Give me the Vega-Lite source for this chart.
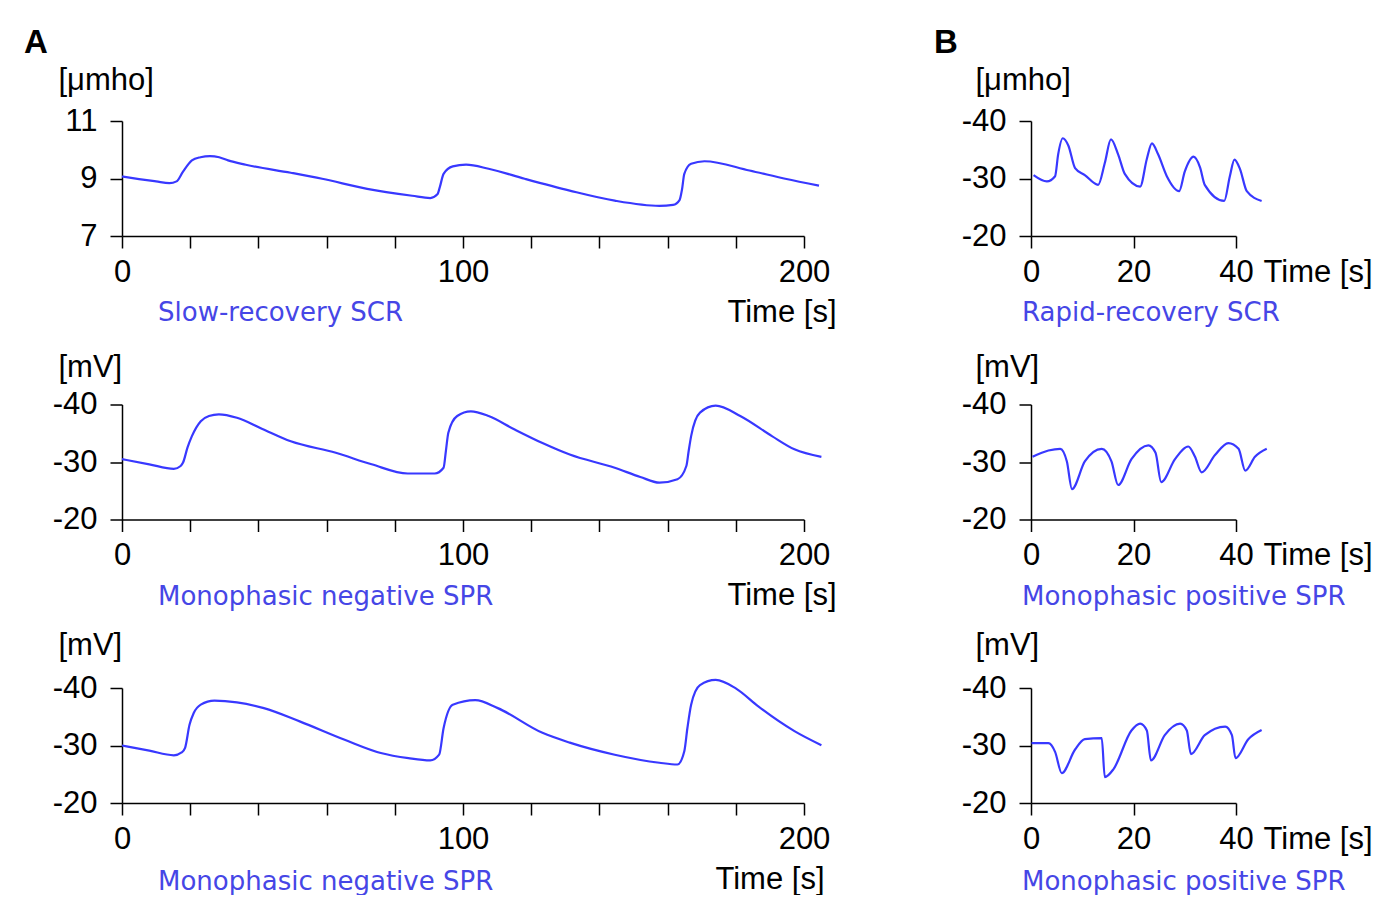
{
  "$schema": "https://vega.github.io/schema/vega-lite/v6.json",
  "background": "white",
  "padding": {"left": 24, "top": 27, "right": 0, "bottom": 0},
  "config": {
    "view": {"stroke": null},
    "axis": {
      "domainColor": "#000", "tickColor": "#000", "domainWidth": 1.5, "tickWidth": 1.5, "tickSize": 12,
      "labelFont": "Liberation Sans", "labelFontSize": 31, "labelColor": "#000", "labelFlush": false,
      "titleFont": "Liberation Sans", "titleFontSize": 31, "titleFontWeight": "normal", "titleColor": "#000",
      "grid": false
    },
    "axisX": {"labelPadding": 9},
    "axisY": {"labelPadding": 13},
    "line": {"color": "#3838ff", "strokeWidth": 2.2, "interpolate": "monotone"}
  },
  "datasets": {
    "a1": [
      {"t":0,"v":9.07},{"t":5,"v":8.98},{"t":10,"v":8.9},{"t":13.9,"v":8.84},{"t":16,"v":8.9},{"t":17.8,"v":9.22},{"t":20.5,"v":9.63},{"t":23,"v":9.74},{"t":25.8,"v":9.78},{"t":28.5,"v":9.74},{"t":31.1,"v":9.63},{"t":36.3,"v":9.48},{"t":49.5,"v":9.2},{"t":58.7,"v":8.99},{"t":71.9,"v":8.64},{"t":85.1,"v":8.4},{"t":90.4,"v":8.32},{"t":92.5,"v":8.45},{"t":93.2,"v":8.7},{"t":94.3,"v":9.16},{"t":97,"v":9.42},{"t":100.9,"v":9.48},{"t":107.5,"v":9.34},{"t":118.1,"v":8.99},{"t":131.3,"v":8.58},{"t":144.5,"v":8.23},{"t":157.6,"v":8.05},{"t":161.6,"v":8.08},{"t":163.5,"v":8.25},{"t":164.2,"v":8.6},{"t":164.9,"v":9.16},{"t":166.9,"v":9.51},{"t":170.8,"v":9.6},{"t":184,"v":9.28},{"t":194.5,"v":8.99},{"t":204.4,"v":8.75}
    ],
    "a2": [
      {"t":0,"v":-30.5},{"t":8,"v":-29.6},{"t":15.2,"v":-28.8},{"t":17.2,"v":-29.3},{"t":17.9,"v":-29.9},{"t":19.2,"v":-32.5},{"t":20.5,"v":-34.5},{"t":23.1,"v":-37.1},{"t":25.5,"v":-38.0},{"t":28.4,"v":-38.3},{"t":33.7,"v":-37.7},{"t":41,"v":-35.8},{"t":49.5,"v":-33.6},{"t":62.7,"v":-31.6},{"t":73.2,"v":-29.6},{"t":83.8,"v":-28.0},{"t":91.7,"v":-28.0},{"t":94.3,"v":-29.0},{"t":95,"v":-32},{"t":95.7,"v":-35.1},{"t":98.3,"v":-38.0},{"t":102.3,"v":-38.8},{"t":107.5,"v":-38.0},{"t":115,"v":-35.7},{"t":123.3,"v":-33.3},{"t":131.3,"v":-31.3},{"t":144.5,"v":-29.0},{"t":152,"v":-27.4},{"t":157.6,"v":-26.4},{"t":162.9,"v":-27.0},{"t":165.5,"v":-29.3},{"t":166.2,"v":-32},{"t":166.9,"v":-34.5},{"t":169.5,"v":-38.6},{"t":174.1,"v":-39.8},{"t":181.3,"v":-38.0},{"t":190.6,"v":-34.5},{"t":197.2,"v":-32.2},{"t":205.1,"v":-30.9}
    ],
    "a3": [
      {"t":0,"v":-30.0},{"t":8,"v":-29.1},{"t":15.2,"v":-28.3},{"t":17.5,"v":-28.8},{"t":18.5,"v":-29.6},{"t":19.8,"v":-33.6},{"t":21,"v":-35.6},{"t":23.1,"v":-37.1},{"t":27.1,"v":-37.8},{"t":33.7,"v":-37.5},{"t":41.6,"v":-36.5},{"t":52.1,"v":-34.2},{"t":65.3,"v":-31.0},{"t":75.9,"v":-28.7},{"t":84,"v":-27.8},{"t":90.4,"v":-27.4},{"t":93,"v":-28.4},{"t":94.3,"v":-33.0},{"t":97,"v":-37.1},{"t":103.6,"v":-37.9},{"t":110.2,"v":-36.5},{"t":123.3,"v":-32.2},{"t":131.3,"v":-30.5},{"t":144.5,"v":-28.4},{"t":157.6,"v":-27.0},{"t":162.9,"v":-26.7},{"t":164.9,"v":-29.0},{"t":165.8,"v":-33},{"t":166.9,"v":-37.1},{"t":169.5,"v":-40.5},{"t":174.1,"v":-41.4},{"t":180.1,"v":-39.9},{"t":186.6,"v":-36.8},{"t":197.2,"v":-32.5},{"t":205.1,"v":-30.05}
    ],
    "b1": [
      {"t":0.5,"v":-30.6},{"t":3.1,"v":-29.5},{"t":4.7,"v":-30.4},{"t":5.3,"v":-34.2},{"t":6.2,"v":-37.0},{"t":7.3,"v":-35.7},{"t":8.6,"v":-31.8},{"t":10.5,"v":-30.6},{"t":13.1,"v":-28.9},{"t":14.4,"v":-32.7},{"t":15.6,"v":-36.8},{"t":17.0,"v":-34.2},{"t":18.3,"v":-30.8},{"t":21.3,"v":-28.6},{"t":22.6,"v":-33.4},{"t":23.6,"v":-36.1},{"t":24.8,"v":-34.2},{"t":26.5,"v":-30.4},{"t":28.9,"v":-27.8},{"t":30.0,"v":-31.2},{"t":31.7,"v":-33.8},{"t":33.0,"v":-31.9},{"t":33.9,"v":-28.9},{"t":37.7,"v":-26.1},{"t":38.8,"v":-30.4},{"t":39.7,"v":-33.3},{"t":40.8,"v":-31.6},{"t":42.1,"v":-27.8},{"t":45.0,"v":-26.1}
    ],
    "b2": [
      {"t":0.3,"v":-30.9},{"t":3.4,"v":-32.0},{"t":5.7,"v":-32.3},{"t":7.0,"v":-30.1},{"t":8.0,"v":-25.3},{"t":10.5,"v":-30.1},{"t":13.8,"v":-32.3},{"t":15.7,"v":-30.1},{"t":17.0,"v":-26.0},{"t":19.6,"v":-30.5},{"t":22.9,"v":-32.9},{"t":24.3,"v":-31.6},{"t":25.4,"v":-26.5},{"t":28.1,"v":-30.5},{"t":30.7,"v":-32.7},{"t":32.0,"v":-30.9},{"t":33.3,"v":-28.2},{"t":35.9,"v":-31.2},{"t":38.5,"v":-33.3},{"t":40.5,"v":-32.3},{"t":41.8,"v":-28.5},{"t":43.7,"v":-30.9},{"t":46.0,"v":-32.3}
    ],
    "b3": [
      {"t":0.1,"v":-30.4},{"t":3.4,"v":-30.4},{"t":4.7,"v":-28.9},{"t":6.0,"v":-25.2},{"t":8.6,"v":-29.3},{"t":10.5,"v":-31.1},{"t":13.8,"v":-31.3},{"t":14.4,"v":-24.5},{"t":16.1,"v":-25.9},{"t":19.6,"v":-32.6},{"t":21.3,"v":-33.8},{"t":22.6,"v":-32.6},{"t":23.4,"v":-27.4},{"t":26.1,"v":-31.8},{"t":29.1,"v":-33.8},{"t":30.4,"v":-32.6},{"t":31.2,"v":-28.5},{"t":33.9,"v":-31.8},{"t":37.9,"v":-33.3},{"t":39.2,"v":-31.8},{"t":39.9,"v":-27.8},{"t":42.4,"v":-31.1},{"t":45.0,"v":-32.7}
    ]
  },
  "spacing": 98,
  "hconcat": [
    {
      "title": {"text": "A", "anchor": "start", "frame": "group", "dx": -98, "font": "Liberation Sans", "fontSize": 33, "fontWeight": "bold", "color": "#000", "offset": 4},
      "bounds": "flush",
      "spacing": 168.5,
      "vconcat": [
        {
          "width": 682, "height": 115,
          "data": {"name": "a1"},
          "mark": {"type": "line"},
          "title": {"text": "Slow-recovery SCR", "orient": "bottom", "anchor": "start", "frame": "group", "dx": 36, "offset": -6, "baseline": "alphabetic", "color": "#4646e6", "font": "DejaVu Sans", "fontSize": 26, "fontWeight": "normal"},
          "encoding": {
            "x": {"field": "t", "type": "quantitative", "scale": {"domain": [0, 200], "nice": false, "zero": false},
                  "axis": {"values": [0,20,40,60,80,100,120,140,160,180,200], "labelExpr": "datum.value % 100 === 0 ? datum.label : ''", "title": "Time [s]", "titleAlign": "right", "titleBaseline": "alphabetic", "titleX": 714, "titleY": 85}},
            "y": {"field": "v", "type": "quantitative", "scale": {"domain": [7, 11], "nice": false, "zero": false},
                  "axis": {"values": [7, 9, 11], "title": "[μmho]", "titleAngle": 0, "titleAlign": "left", "titleBaseline": "alphabetic", "titleX": -64, "titleY": -32}}
          }
        },
        {
          "width": 682, "height": 115,
          "data": {"name": "a2"},
          "mark": {"type": "line"},
          "title": {"text": "Monophasic negative SPR", "orient": "bottom", "anchor": "start", "frame": "group", "dx": 36, "offset": -6, "baseline": "alphabetic", "color": "#4646e6", "font": "DejaVu Sans", "fontSize": 26, "fontWeight": "normal"},
          "encoding": {
            "x": {"field": "t", "type": "quantitative", "scale": {"domain": [0, 200], "nice": false, "zero": false},
                  "axis": {"values": [0,20,40,60,80,100,120,140,160,180,200], "labelExpr": "datum.value % 100 === 0 ? datum.label : ''", "title": "Time [s]", "titleAlign": "right", "titleBaseline": "alphabetic", "titleX": 714, "titleY": 85}},
            "y": {"field": "v", "type": "quantitative", "scale": {"domain": [-40, -20], "reverse": true, "nice": false, "zero": false},
                  "axis": {"values": [-40, -30, -20], "labelExpr": "datum.value + ''", "title": "[mV]", "titleAngle": 0, "titleAlign": "left", "titleBaseline": "alphabetic", "titleX": -64, "titleY": -28}}
          }
        },
        {
          "width": 682, "height": 115,
          "data": {"name": "a3"},
          "mark": {"type": "line"},
          "title": {"text": "Monophasic negative SPR", "orient": "bottom", "anchor": "start", "frame": "group", "dx": 36, "offset": -4, "baseline": "alphabetic", "color": "#4646e6", "font": "DejaVu Sans", "fontSize": 26, "fontWeight": "normal"},
          "encoding": {
            "x": {"field": "t", "type": "quantitative", "scale": {"domain": [0, 200], "nice": false, "zero": false},
                  "axis": {"values": [0,20,40,60,80,100,120,140,160,180,200], "labelExpr": "datum.value % 100 === 0 ? datum.label : ''", "title": "Time [s]", "titleAlign": "right", "titleBaseline": "alphabetic", "titleX": 702, "titleY": 85}},
            "y": {"field": "v", "type": "quantitative", "scale": {"domain": [-40, -20], "reverse": true, "nice": false, "zero": false},
                  "axis": {"values": [-40, -30, -20], "labelExpr": "datum.value + ''", "title": "[mV]", "titleAngle": 0, "titleAlign": "left", "titleBaseline": "alphabetic", "titleX": -64, "titleY": -34}}
          }
        }
      ]
    },
    {
      "title": {"text": "B", "anchor": "start", "frame": "group", "dx": -97, "font": "Liberation Sans", "fontSize": 33, "fontWeight": "bold", "color": "#000", "offset": 4},
      "bounds": "flush",
      "spacing": 168.5,
      "vconcat": [
        {
          "width": 205, "height": 115,
          "data": {"name": "b1"},
          "mark": {"type": "line"},
          "title": {"text": "Rapid-recovery SCR", "orient": "bottom", "anchor": "start", "frame": "group", "dx": -9, "offset": 34, "baseline": "alphabetic", "color": "#4646e6", "font": "DejaVu Sans", "fontSize": 26, "fontWeight": "normal"},
          "encoding": {
            "x": {"field": "t", "type": "quantitative", "scale": {"domain": [0, 40], "nice": false, "zero": false},
                  "axis": {"values": [0, 20, 40], "title": "Time [s]", "titleAlign": "left", "titleBaseline": "alphabetic", "titleX": 232, "titleY": 45}},
            "y": {"field": "v", "type": "quantitative", "scale": {"domain": [-40, -20], "reverse": true, "nice": false, "zero": false},
                  "axis": {"values": [-40, -30, -20], "labelExpr": "datum.value + ''", "title": "[μmho]", "titleAngle": 0, "titleAlign": "left", "titleBaseline": "alphabetic", "titleX": -56, "titleY": -32}}
          }
        },
        {
          "width": 205, "height": 115,
          "data": {"name": "b2"},
          "mark": {"type": "line"},
          "title": {"text": "Monophasic positive SPR", "orient": "bottom", "anchor": "start", "frame": "group", "dx": -9, "offset": 34, "baseline": "alphabetic", "color": "#4646e6", "font": "DejaVu Sans", "fontSize": 26, "fontWeight": "normal"},
          "encoding": {
            "x": {"field": "t", "type": "quantitative", "scale": {"domain": [0, 40], "nice": false, "zero": false},
                  "axis": {"values": [0, 20, 40], "title": "Time [s]", "titleAlign": "left", "titleBaseline": "alphabetic", "titleX": 232, "titleY": 45}},
            "y": {"field": "v", "type": "quantitative", "scale": {"domain": [-40, -20], "reverse": true, "nice": false, "zero": false},
                  "axis": {"values": [-40, -30, -20], "labelExpr": "datum.value + ''", "title": "[mV]", "titleAngle": 0, "titleAlign": "left", "titleBaseline": "alphabetic", "titleX": -56, "titleY": -28}}
          }
        },
        {
          "width": 205, "height": 115,
          "data": {"name": "b3"},
          "mark": {"type": "line"},
          "title": {"text": "Monophasic positive SPR", "orient": "bottom", "anchor": "start", "frame": "group", "dx": -9, "offset": 36, "baseline": "alphabetic", "color": "#4646e6", "font": "DejaVu Sans", "fontSize": 26, "fontWeight": "normal"},
          "encoding": {
            "x": {"field": "t", "type": "quantitative", "scale": {"domain": [0, 40], "nice": false, "zero": false},
                  "axis": {"values": [0, 20, 40], "title": "Time [s]", "titleAlign": "left", "titleBaseline": "alphabetic", "titleX": 232, "titleY": 45}},
            "y": {"field": "v", "type": "quantitative", "scale": {"domain": [-40, -20], "reverse": true, "nice": false, "zero": false},
                  "axis": {"values": [-40, -30, -20], "labelExpr": "datum.value + ''", "title": "[mV]", "titleAngle": 0, "titleAlign": "left", "titleBaseline": "alphabetic", "titleX": -56, "titleY": -34}}
          }
        }
      ]
    }
  ]
}
